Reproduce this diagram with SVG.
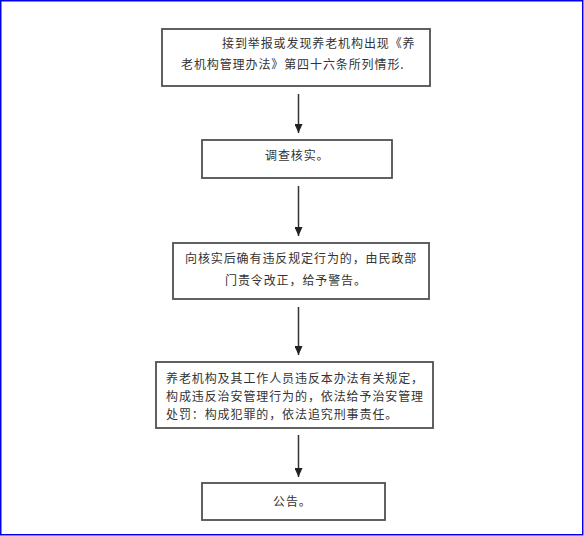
<svg xmlns="http://www.w3.org/2000/svg" width="584" height="536" viewBox="0 0 584 536">
<style>
.box{fill:#ffffff;stroke:#505050;stroke-width:1.8}
.t{font-family:"Noto Sans CJK SC","Noto Sans",sans-serif;font-size:12px;fill:#333333;letter-spacing:0.9px}
.c{stroke:#333333;stroke-width:1.5;fill:none}
</style>
<defs>
<marker id="ah" markerWidth="9" markerHeight="8" refX="9" refY="4" orient="auto" markerUnits="userSpaceOnUse" viewBox="0 0 9 8">
<path d="M0,0 L9,4 L0,8 Z" fill="#222222"/>
</marker>
</defs>
<rect x="0.75" y="0.75" width="582" height="534" fill="#ffffff" stroke="#0000ee" stroke-width="1.5"/>
<g id="connectors">
<line class="c" x1="298.5" y1="94" x2="298.5" y2="133" marker-end="url(#ah)"/>
<line class="c" x1="298.5" y1="186" x2="298.5" y2="236" marker-end="url(#ah)"/>
<line class="c" x1="298.5" y1="307" x2="298.5" y2="355" marker-end="url(#ah)"/>
<line class="c" x1="298.5" y1="435" x2="298.5" y2="477" marker-end="url(#ah)"/>
</g>
<g id="node1">
<rect class="box" x="162" y="29" width="268" height="57"/>
<text class="t" x="222" y="48">接到举报或发现养老机构出现《养</text>
<text class="t" x="181" y="69">老机构管理办法》第四十六条所列情形.</text>
</g>
<g id="node2">
<rect class="box" x="202" y="140" width="190" height="38"/>
<text class="t" x="265" y="160">调查核实。</text>
</g>
<g id="node3">
<rect class="box" x="173" y="243" width="256" height="56"/>
<text class="t" x="185" y="263">向核实后确有违反规定行为的，由民政部</text>
<text class="t" x="225" y="285">门责令改正，给予警告。</text>
</g>
<g id="node4">
<rect class="box" x="156" y="362" width="277" height="66"/>
<text class="t" x="166" y="383">养老机构及其工作人员违反本办法有关规定，</text>
<text class="t" x="166" y="401">构成违反治安管理行为的，依法给予治安管理</text>
<text class="t" x="166" y="419">处罚：构成犯罪的，依法追究刑事责任。</text>
</g>
<g id="node5">
<rect class="box" x="202" y="483" width="183" height="37"/>
<text class="t" x="273" y="506">公告。</text>
</g>
</svg>
